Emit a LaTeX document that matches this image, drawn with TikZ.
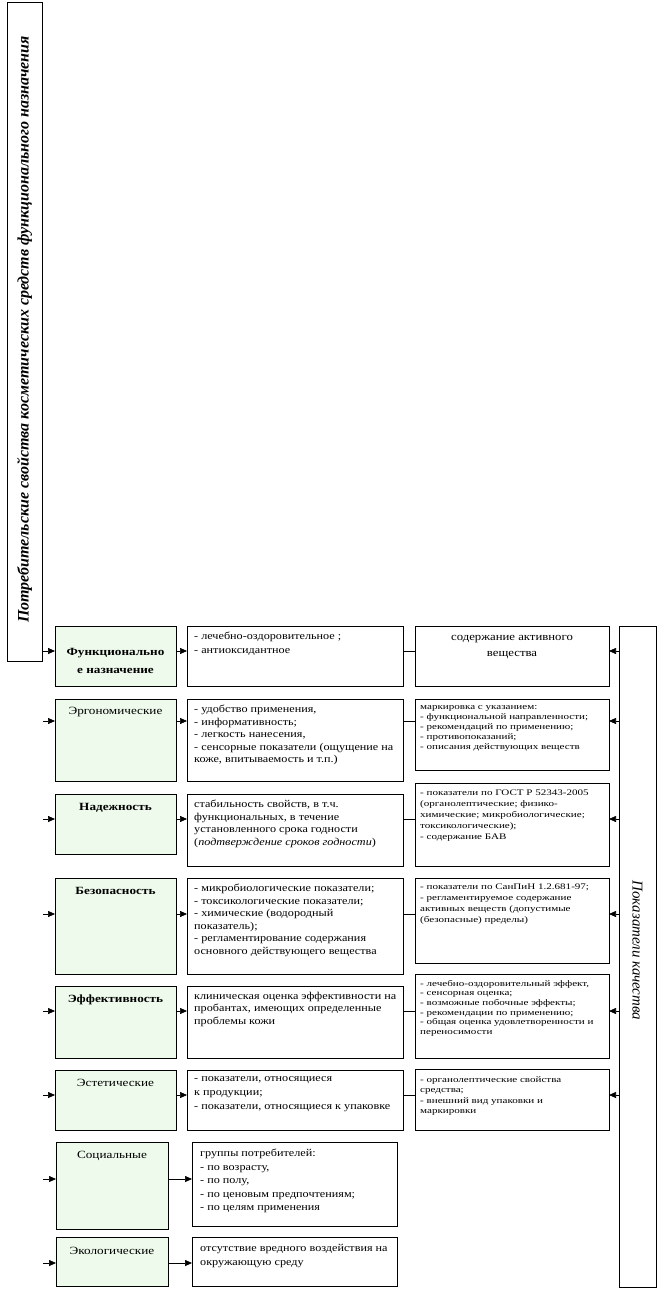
\documentclass[tikz,border=0pt]{standalone}
\usepackage{fontspec}
\setmainfont{Liberation Serif}
\newfontfamily\wserif[FakeStretch=1.16]{Liberation Serif}
\newfontfamily\gserif[FakeStretch=1.2]{Liberation Serif}
\newfontfamily\sserif[FakeStretch=1.3]{Liberation Serif}
\usetikzlibrary{arrows.meta}
\definecolor{gfill}{RGB}{238,250,236}
\tikzset{
  bx/.style={draw, line width=0.7pt, anchor=north west, inner sep=0pt, outer sep=0pt},
  gbx/.style={bx, fill=gfill},
  arr/.style={-{Triangle[length=7pt,width=6pt]}, line width=0.7pt},
  ln/.style={line width=0.7pt},
  ghead/.style={anchor=base, inner sep=0pt, align=center, font=\gserif\fontsize{11}{13}\selectfont},
  gbold/.style={anchor=base, inner sep=0pt, align=center, font=\gserif\bfseries\fontsize{11}{18}\selectfont},
  mtxt/.style={anchor=north west, inner sep=0pt, align=left, font=\wserif\fontsize{10.5}{12.5}\selectfont},
  mtxtw/.style={anchor=north west, inner sep=0pt, align=left, font=\wserif\fontsize{10.5}{14}\selectfont},
  stxt/.style={anchor=north west, inner sep=0pt, align=left, font=\sserif\fontsize{8.5}{10}\selectfont},
}
\begin{document}
\begin{tikzpicture}[x=1pt,y=-1pt]
\useasboundingbox (0,0) rectangle (657,1299);
% tall side boxes
\node[bx, minimum width=35pt, minimum height=659pt] (L) at (7,2) {};
\node[rotate=90, inner sep=0pt, font=\bfseries\itshape\fontsize{16}{16}\selectfont] (Lt) at ([yshift=2pt]L.center) {Потребительские свойства косметических средств функционального назначения};
\node[bx, minimum width=37pt, minimum height=661pt] (R) at (619,626) {};
\node[rotate=-90, inner sep=0pt, font=\itshape\fontsize{15}{15}\selectfont] (Rt) at ([yshift=6pt]R.center) {Показатели качества};
% row 1
\node[gbx, minimum width=121pt, minimum height=60pt] (g1) at (55,626) {};
\node[bx, minimum width=216pt, minimum height=60pt] (m1) at (187,626) {};
\node[bx, minimum width=194pt, minimum height=60pt] (r1) at (415,626) {};
\node[gbold, anchor=center] (g1t) at ([yshift=-5pt]g1.center) {Функционально\\е назначение};
\node[mtxtw] (m1t) at ([shift={(7,6)}]m1.north west) {- лечебно-оздоровительное ;\\- антиоксидантное};
\node[anchor=north, inner sep=0pt, align=center, font=\wserif\fontsize{11}{16}\selectfont] (r1t) at ([shift={(0,9)}]r1.north) {содержание активного\\вещества};
% row 2
\node[gbx, minimum width=121pt, minimum height=82pt] (g2) at (55,699) {};
\node[bx, minimum width=216pt, minimum height=82pt] (m2) at (187,699) {};
\node[bx, minimum width=194pt, minimum height=71pt] (r2) at (415,699) {};
\node[ghead] (g2t) at ([shift={(0,15)}]g2.north) {Эргономические};
\node[mtxt] (m2t) at ([shift={(7,6)}]m2.north west) {- удобство применения,\\- информативность;\\- легкость нанесения,\\- сенсорные показатели (ощущение на\\коже, впитываемость и т.п.)};
\node[stxt] (r2t) at ([shift={(5,6)}]r2.north west) {маркировка с указанием:\\- функциональной направленности;\\- рекомендаций по применению;\\- противопоказаний;\\- описания действующих веществ};
% row 3
\node[gbx, minimum width=121pt, minimum height=60pt] (g3) at (55,794) {};
\node[bx, minimum width=216pt, minimum height=72pt] (m3) at (187,794) {};
\node[bx, minimum width=194pt, minimum height=83pt] (r3) at (415,783) {};
\node[gbold] (g3t) at ([shift={(0,16)}]g3.north) {Надежность};
\node[mtxt] (m3t) at ([shift={(7,6)}]m3.north west) {стабильность свойств, в т.ч.\\функциональных, в течение\\установленного срока годности\\(\textit{подтверждение сроков годности})};
\node[stxt, font=\sserif\fontsize{8.5}{10.8}\selectfont] (r3t) at ([shift={(5,7)}]r3.north west) {- показатели по ГОСТ Р 52343-2005\\(органолептические; физико-\\химические; микробиологические;\\токсикологические);\\- содержание БАВ};
% row 4
\node[gbx, minimum width=121pt, minimum height=96pt] (g4) at (55,878) {};
\node[bx, minimum width=216pt, minimum height=96pt] (m4) at (187,878) {};
\node[bx, minimum width=194pt, minimum height=85pt] (r4) at (415,878) {};
\node[gbold] (g4t) at ([shift={(0,16)}]g4.north) {Безопасность};
\node[mtxt] (m4t) at ([shift={(7,6)}]m4.north west) {- микробиологические показатели;\\- токсикологические показатели;\\- химические (водородный\\показатель);\\- регламентирование содержания\\основного действующего вещества};
\node[stxt, font=\sserif\fontsize{8.5}{10.8}\selectfont] (r4t) at ([shift={(5,6)}]r4.north west) {- показатели по СанПиН 1.2.681-97;\\- регламентируемое содержание\\активных веществ (допустимые\\(безопасные) пределы)};
% row 5
\node[gbx, minimum width=121pt, minimum height=72pt] (g5) at (55,986) {};
\node[bx, minimum width=216pt, minimum height=72pt] (m5) at (187,986) {};
\node[bx, minimum width=194pt, minimum height=84pt] (r5) at (415,974) {};
\node[gbold] (g5t) at ([shift={(0,16)}]g5.north) {Эффективность};
\node[mtxt] (m5t) at ([shift={(7,6)}]m5.north west) {клиническая оценка эффективности на\\пробантах, имеющих определенные\\проблемы кожи};
\node[stxt, font=\sserif\fontsize{8.5}{9.6}\selectfont] (r5t) at ([shift={(5,6)}]r5.north west) {- лечебно-оздоровительный эффект,\\- сенсорная оценка;\\- возможные побочные эффекты;\\- рекомендации по применению;\\- общая оценка удовлетворенности и\\переносимости};
% row 6
\node[gbx, minimum width=121pt, minimum height=60pt] (g6) at (55,1070) {};
\node[bx, minimum width=216pt, minimum height=60pt] (m6) at (187,1070) {};
\node[bx, minimum width=194pt, minimum height=61pt] (r6) at (415,1069) {};
\node[ghead] (g6t) at ([shift={(0,16)}]g6.north) {Эстетические};
\node[mtxtw] (m6t) at ([shift={(7,6)}]m6.north west) {- показатели, относящиеся\\к продукции;\\- показатели, относящиеся к упаковке};
\node[stxt, font=\sserif\fontsize{8.5}{10.5}\selectfont] (r6t) at ([shift={(5,7)}]r6.north west) {- органолептические свойства\\средства;\\- внешний вид упаковки и\\маркировки};
% row 7
\node[gbx, minimum width=112pt, minimum height=87pt] (g7) at (56,1142) {};
\node[bx, minimum width=205pt, minimum height=84pt] (m7) at (192,1142) {};
\node[ghead] (g7t) at ([shift={(0,16)}]g7.north) {Социальные};
\node[mtxtw, font=\wserif\fontsize{10.5}{13.5}\selectfont] (m7t) at ([shift={(8,7)}]m7.north west) {группы потребителей:\\- по возрасту,\\- по полу,\\- по ценовым предпочтениям;\\- по целям применения};
% row 8
\node[gbx, minimum width=112pt, minimum height=49pt] (g8) at (56,1237) {};
\node[bx, minimum width=205pt, minimum height=49pt] (m8) at (192,1237) {};
\node[ghead] (g8t) at ([shift={(0,17)}]g8.north) {Экологические};
\node[mtxtw] (m8t) at ([shift={(8,7)}]m8.north west) {отсутствие вредного воздействия на\\окружающую среду};
% connectors
\coordinate (a1) at (43,651);
\coordinate (a2) at (43,721);
\coordinate (a3) at (43,819);
\coordinate (a4) at (43,914);
\coordinate (a5) at (43,1011);
\coordinate (a6) at (43,1095);
\coordinate (a7) at (43,1179);
\coordinate (a8) at (43,1263);
\foreach \i in {1,...,8}{
  \draw[arr] (a\i) -- (a\i -| g\i.west);
  \draw[arr] (a\i -| g\i.east) -- (a\i -| m\i.west);
}
\foreach \i in {1,...,6}{
  \draw[ln] (a\i -| m\i.east) -- (a\i -| r\i.west);
  \draw[arr] (a\i -| R.west) -- (a\i -| r\i.east);
}
\end{tikzpicture}
\end{document}
